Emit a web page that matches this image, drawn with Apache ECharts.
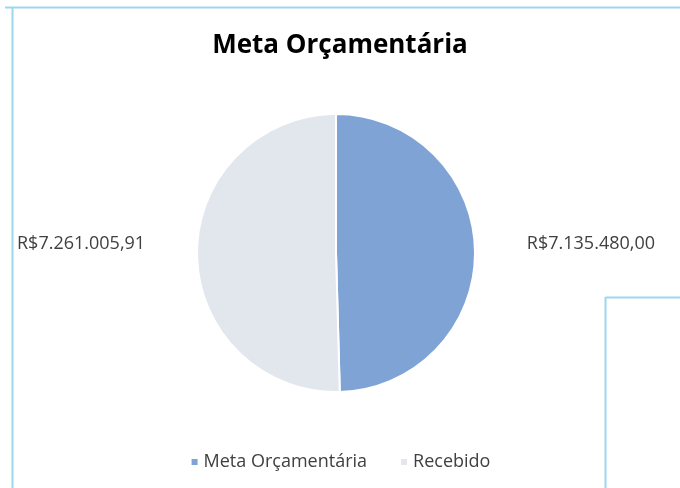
<!DOCTYPE html>
<html lang="pt-BR" style="width: 100%; height: 100%">
<head>
  <meta charset="utf-8">
</head>
<body style="margin: 0; width: 680px; height: 488px; background: #fff">
  <div id="container" style="width: 680px; height: 488px"></div>

  <script type="text/javascript" src="https://cdn.jsdelivr.net/npm/echarts@6/dist/echarts.min.js"></script>
  <script type="text/javascript">

var categorias = ['Meta Orçamentária', 'Recebido'];
var valores = [7135480.00, 7261005.91];
var cores = ['#7fa3d4', '#e2e7ee'];

var dom = document.getElementById('container');
var myChart = echarts.init(dom, null, { renderer: 'canvas' });

function brl(v) {
  return 'R$' + v.toLocaleString('pt-BR', { minimumFractionDigits: 2, maximumFractionDigits: 2 });
}

var fonte = '"Open Sans", "Noto Sans", sans-serif';

var option = {
  animation: false,
  backgroundColor: '#ffffff',
  title: {
    text: 'Meta Orçamentária',
    left: 'center',
    top: 28,
    textStyle: {
      fontFamily: fonte,
      fontSize: 26,
      fontWeight: 'bold',
      color: '#000000'
    }
  },
  legend: {
    bottom: 12,
    left: 'center',
    itemWidth: 8,
    itemHeight: 8,
    itemGap: 32,
    icon: 'rect',
    data: categorias,
    textStyle: {
      fontFamily: fonte,
      fontSize: 18,
      color: '#404040'
    }
  },
  graphic: [
    // moldura da planilha
    { type: 'line', shape: { x1: 5, y1: 7.5, x2: 680, y2: 7.5 }, style: { stroke: '#9ad8f0', lineWidth: 2 } },
    { type: 'line', shape: { x1: 12.5, y1: 7, x2: 12.5, y2: 488 }, style: { stroke: '#9ad8f0', lineWidth: 2 } },
    { type: 'line', shape: { x1: 605.5, y1: 297.5, x2: 680, y2: 297.5 }, style: { stroke: '#9ad8f0', lineWidth: 2 } },
    { type: 'line', shape: { x1: 605.5, y1: 297, x2: 605.5, y2: 488 }, style: { stroke: '#9ad8f0', lineWidth: 2 } }
  ],
  series: [{
    type: 'pie',
    center: [336, 253],
    radius: 139,
    startAngle: 90,
    clockwise: true,
    itemStyle: {
      borderColor: '#ffffff',
      borderWidth: 2
    },
    label: {
      show: true,
      position: 'outside',
      fontFamily: fonte,
      fontSize: 18,
      color: '#404040',
      formatter: function (p) { return brl(p.value); }
    },
    labelLine: { show: false },
    labelLayout: function (p) {
      // rótulos encostados nas laterais, como no Excel
      if (p.dataIndex === 0) {
        return { x: 655, y: 244, align: 'right', verticalAlign: 'middle' };
      }
      return { x: 17, y: 244, align: 'left', verticalAlign: 'middle' };
    },
    data: categorias.map(function (c, i) {
      return { name: c, value: valores[i], itemStyle: { color: cores[i] } };
    })
  }]
};

myChart.setOption(option);
  </script>
</body>
</html>
